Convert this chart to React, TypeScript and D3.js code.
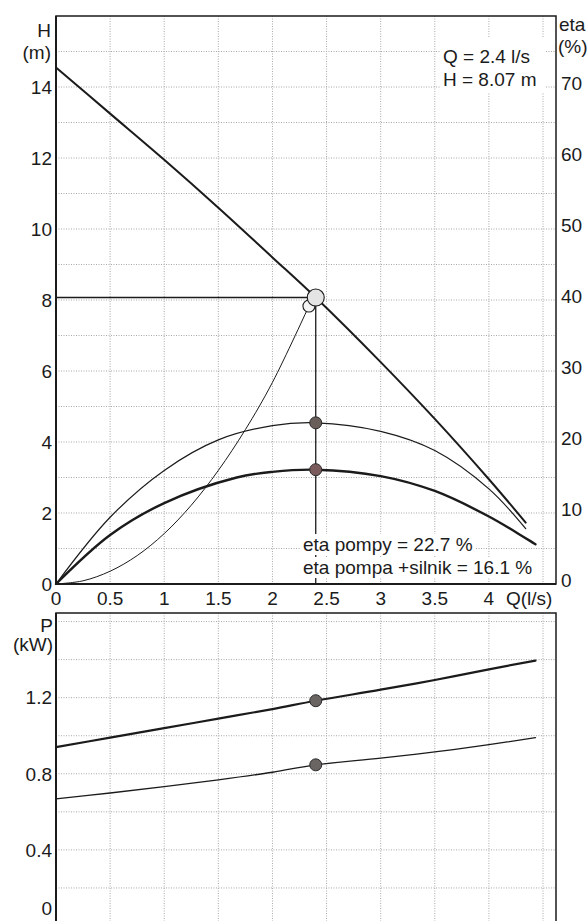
import React, { useEffect, useRef } from "react"
import * as d3 from "d3"

// pump curve H(Q)
const flowHead = [0, 0.5, 1, 1.5, 2, 2.4, 3, 3.5, 4, 4.34]
const head = [14.55, 13.25, 11.95, 10.6, 9.2, 8.07, 6.25, 4.65, 2.95, 1.73]

// pump efficiency (%)
const flowEtaPump = [0, 0.5, 1, 1.5, 2, 2.4, 3, 3.5, 4, 4.34]
const etaPump = [0, 9.4, 16.0, 20.3, 22.3, 22.7, 21.5, 18.8, 13.4, 7.8]

// pump + motor efficiency (%)
const flowEtaTotal = [0, 0.5, 1, 1.67, 2, 2.4, 3, 3.5, 4, 4.43]
const etaTotal = [0, 6.9, 11.4, 15, 15.8, 16.1, 15.2, 13.1, 9.5, 5.6]

// system curve
const flowSystem = [0, 0.25, 0.5, 0.75, 1, 1.25, 1.5, 1.75, 2, 2.337]
const headSystem = [0, 0.09, 0.36, 0.8, 1.42, 2.22, 3.2, 4.35, 5.68, 7.83]

// power (kW)
const flowPower = [0, 0.5, 1, 1.5, 2, 2.4, 3, 3.5, 4, 4.43]
const powerMotor = [0.94, 0.99, 1.04, 1.09, 1.14, 1.184, 1.242, 1.293, 1.349, 1.395]
const powerPump = [0.668, 0.699, 0.732, 0.768, 0.808, 0.847, 0.882, 0.915, 0.953, 0.99]

// operating point
const opQ = 2.4
const opH = 8.07
const opEtaPump = 22.7
const opEtaTotal = 16.1
const opPowerMotor = 1.184
const opPowerPump = 0.847

const qTicks = [0, 0.5, 1, 1.5, 2, 2.5, 3, 3.5, 4]
const hTicks = [0, 2, 4, 6, 8, 10, 12, 14]
const etaTicks = [0, 10, 20, 30, 40, 50, 60, 70]
const pTicks = [0, 0.4, 0.8, 1.2]

const FONT = "'Liberation Sans', Arial, sans-serif"
const INK = "#1b1b1b"

const App = () => {
  const ref = useRef(null)

  useEffect(() => {
    const svg = d3.select(ref.current)
    svg.selectAll("*").remove()

    const x = d3.scaleLinear().domain([0, 4.62]).range([56, 556])
    const yH = d3.scaleLinear().domain([0, 16]).range([584, 16])
    const yEta = d3.scaleLinear().domain([0, 80]).range([584, 16])
    const yP = d3.scaleLinear().domain([0, 1.645]).range([926, 613])

    const g = svg.append("g").attr("font-family", FONT).attr("font-size", 19).attr("fill", INK)

    const grid = (yScale, yVals) => {
      const gg = g.append("g").attr("stroke", "#a8a8a8").attr("stroke-width", 1).attr("stroke-dasharray", "1,1.5")
      const [y0, y1] = yScale.range()
      gg.selectAll("line.v")
        .data(d3.range(0.5, 4.6, 0.5))
        .join("line")
        .attr("x1", (d) => x(d)).attr("x2", (d) => x(d))
        .attr("y1", y1).attr("y2", Math.min(y0, 921))
      gg.selectAll("line.h")
        .data(yVals)
        .join("line")
        .attr("x1", x(0)).attr("x2", x.range()[1])
        .attr("y1", (d) => yScale(d)).attr("y2", (d) => yScale(d))
    }

    grid(yH, d3.range(1, 16, 1))
    grid(yP, d3.range(0.2, 1.61, 0.2))

    // operating point guides
    g.append("line")
      .attr("x1", x(0)).attr("x2", x(opQ))
      .attr("y1", yH(opH)).attr("y2", yH(opH))
      .attr("stroke", INK).attr("stroke-width", 1.6)
    g.append("line")
      .attr("x1", x(opQ)).attr("x2", x(opQ))
      .attr("y1", yH(opH)).attr("y2", yH(0))
      .attr("stroke", INK).attr("stroke-width", 1.3)

    // frames
    const frame = (yScale) => {
      const [y0, y1] = yScale.range()
      const bottom = Math.min(y0, 930)
      g.append("rect")
        .attr("x", x(0)).attr("y", y1)
        .attr("width", x.range()[1] - x(0)).attr("height", bottom - y1)
        .attr("fill", "none").attr("stroke", INK).attr("stroke-width", 1.5)
      g.append("line")
        .attr("x1", x(0)).attr("x2", x(0)).attr("y1", y1).attr("y2", bottom)
        .attr("stroke", INK).attr("stroke-width", 2)
    }
    frame(yH)
    frame(yP)
    g.append("line")
      .attr("x1", x(0)).attr("x2", x.range()[1]).attr("y1", yH(0)).attr("y2", yH(0))
      .attr("stroke", INK).attr("stroke-width", 2)

    // text with white background
    const boxedText = (tx, ty, str) => {
      const bg = g.append("rect").attr("fill", "white")
      const t = g.append("text").attr("x", tx).attr("y", ty).text(str)
      const b = t.node().getBBox()
      bg.attr("x", b.x - 3).attr("y", b.y).attr("width", b.width + 6).attr("height", b.height)
    }

    // curves
    const line = (xs, ys, yScale) =>
      d3.line().curve(d3.curveCatmullRom.alpha(0.5))(xs.map((q, i) => [x(q), yScale(ys[i])]))

    const curve = (xs, ys, yScale, w) =>
      g.append("path")
        .attr("d", line(xs, ys, yScale))
        .attr("fill", "none").attr("stroke", INK).attr("stroke-width", w)
        .attr("stroke-linejoin", "round").attr("stroke-linecap", "round")

    boxedText(303, 551, "eta pompy = 22.7 %")
    boxedText(303, 574, "eta pompa +silnik = 16.1 %")

    curve(flowSystem, headSystem, yH, 1)
    curve(flowEtaPump, etaPump, yEta, 1.2)
    curve(flowEtaTotal, etaTotal, yEta, 2.4)
    curve(flowHead, head, yH, 2)
    curve(flowPower, powerMotor, yP, 2.2)
    curve(flowPower, powerPump, yP, 1.3)

    // markers
    const sysEnd = flowSystem.length - 1
    g.append("circle")
      .attr("cx", x(flowSystem[sysEnd])).attr("cy", yH(headSystem[sysEnd])).attr("r", 6)
      .attr("fill", "#f4f4f4").attr("stroke", INK).attr("stroke-width", 1.1)
    g.append("circle")
      .attr("cx", x(opQ)).attr("cy", yH(opH)).attr("r", 8.5)
      .attr("fill", "#e4e4e4").attr("stroke", INK).attr("stroke-width", 1.1)

    const dots = [
      [yEta(opEtaPump), "#6a5e5b"],
      [yEta(opEtaTotal), "#7a5a5a"],
      [yP(opPowerMotor), "#6a6463"],
      [yP(opPowerPump), "#6a6463"],
    ]
    g.selectAll("circle.dot")
      .data(dots)
      .join("circle")
      .attr("cx", x(opQ)).attr("cy", (d) => d[0]).attr("r", 6)
      .attr("fill", (d) => d[1]).attr("stroke", "#2b2b2b").attr("stroke-width", 1)

    // top right annotation
    g.append("rect").attr("x", 441).attr("y", 37).attr("width", 104).attr("height", 56).attr("fill", "white")
    g.append("text").attr("x", 443).attr("y", 63).text(`Q = ${opQ} l/s`)
    g.append("text").attr("x", 443).attr("y", 86).text(`H = ${opH} m`)

    // axes labels
    g.selectAll("text.h")
      .data(hTicks)
      .join("text")
      .attr("x", 52).attr("y", (d) => yH(d) + 6.8)
      .attr("text-anchor", "end").text((d) => d)
    g.selectAll("text.eta")
      .data(etaTicks)
      .join("text")
      .attr("x", 561).attr("y", (d) => yEta(d) + 2.8)
      .text((d) => d)
    g.selectAll("text.q")
      .data(qTicks)
      .join("text")
      .attr("x", (d) => x(d)).attr("y", 605)
      .attr("text-anchor", "middle").text((d) => d)
    g.selectAll("text.p")
      .data(pTicks)
      .join("text")
      .attr("x", 52).attr("y", (d) => Math.min(yP(d) + 6.8, 915))
      .attr("text-anchor", "end").text((d) => d)

    g.append("text").attr("x", 506).attr("y", 605).text("Q(l/s)")
    g.append("text").attr("x", 51).attr("y", 37).attr("text-anchor", "end").text("H")
    g.append("text").attr("x", 51).attr("y", 59).attr("text-anchor", "end").text("(m)")
    g.append("text").attr("x", 559).attr("y", 31).text("eta")
    g.append("text").attr("x", 558).attr("y", 53).text("(%)")
    g.append("text").attr("x", 53).attr("y", 632).attr("text-anchor", "end").text("P")
    g.append("text").attr("x", 53).attr("y", 651).attr("text-anchor", "end").text("(kW)")
  }, [])

  return (
    <svg
      ref={ref}
      width={588}
      height={921}
      style={{ position: "absolute", left: 0, top: 0, background: "white" }}
    />
  )
}

export default App
